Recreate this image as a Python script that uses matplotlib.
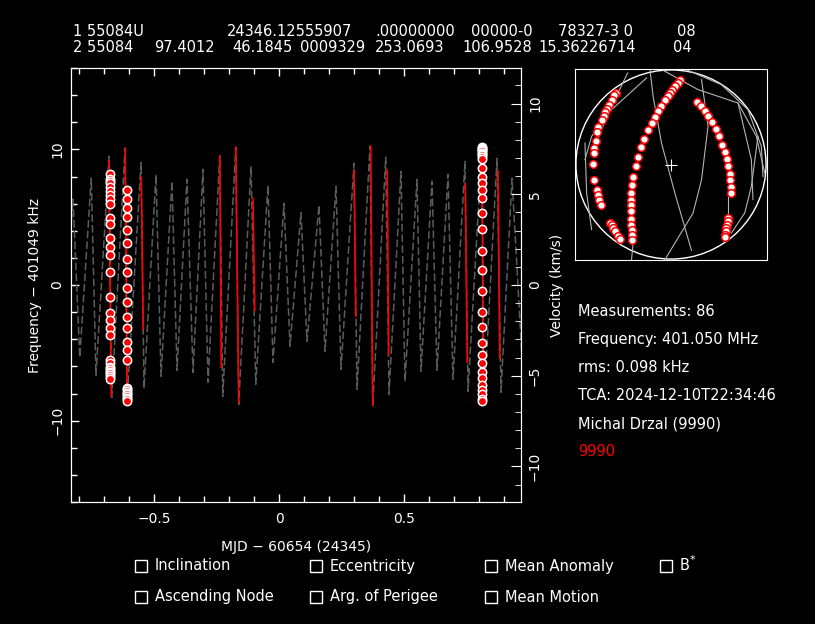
import matplotlib
matplotlib.use('Agg')
import matplotlib.pyplot as plt
from matplotlib.ticker import MultipleLocator, FixedLocator
from matplotlib.patches import Circle, Rectangle

W, H = 815, 624

# model doppler curve, peaks and troughs (MJD - 60654, kHz)
model_t = [-0.868, -0.824, -0.797, -0.751, -0.732, -0.680, -0.669, -0.616, -0.608, -0.552,
           -0.540, -0.492, -0.472, -0.428, -0.408, -0.368, -0.344, -0.304, -0.284, -0.237,
           -0.225, -0.173, -0.161, -0.112, -0.093, -0.044, -0.024, 0.020, 0.044, 0.088,
           0.112, 0.160, 0.184, 0.228, 0.248, 0.300, 0.312, 0.364, 0.375, 0.427,
           0.440, 0.488, 0.504, 0.552, 0.568, 0.612, 0.632, 0.676, 0.696, 0.744,
           0.756, 0.812, 0.820, 0.872, 0.888, 0.932, 0.980]
model_f = [-4.74, 6.32, -5.33, 7.87, -6.66, 9.49, -8.28, 10.08, -8.65, 9.02,
           -7.62, 8.13, -6.73, 7.65, -6.29, 7.79, -6.44, 8.53, -7.18, 9.51,
           -8.21, 10.15, -8.80, 8.75, -7.32, 7.35, -5.70, 6.02, -4.52, 5.33,
           -4.15, 5.88, -4.89, 7.28, -6.22, 8.97, -7.69, 10.24, -8.95, 9.42,
           -8.06, 8.38, -7.10, 7.79, -6.36, 7.65, -6.29, 8.16, -6.95, 9.12,
           -7.84, 10.24, -8.80, 9.34, -7.91, 7.87, -8.06]

# parts of the model where the satellite is above the horizon
pass_t0 = [-0.681, -0.615, -0.551, -0.237, -0.173, -0.104, 0.300, 0.367, 0.433, 0.745, 0.812, 0.876]
pass_t1 = [-0.671, -0.607, -0.543, -0.231, -0.161, -0.097, 0.307, 0.375, 0.439, 0.753, 0.817, 0.883]
pass_f0 = [9.14, 10.08, 7.94, 9.51, 10.15, 6.39, 8.41, 10.23, 8.46, 7.43, 10.38, 8.41]
pass_f1 = [-8.19, -8.80, -3.27, -6.07, -8.65, -1.87, -2.29, -8.87, -5.11, -5.70, -8.87, -5.41]

# measurements, three passes
meas_t = [-0.676, -0.609, 0.813]
meas1_f = [8.16, 7.85, 7.70, 7.55, 7.23, 6.93, 6.62, 6.32, 6.00, 4.97, 4.48, 3.50, 2.80, 2.19,
           0.99, -0.91, -2.09, -2.60, -3.19, -3.71, -5.53, -5.77, -6.02, -6.10, -6.27, -6.40,
           -6.51, -6.65, -6.76, -6.95]
meas2_f = [6.98, 6.37, 5.66, 4.99, 4.09, 3.08, 1.90, 0.99, -0.22, -1.28, -2.38, -3.19,
           -4.17, -4.79, -5.55, -7.57, -7.70, -7.82, -7.95, -8.06, -8.18, -8.30, -8.42, -8.55]
meas3_f = [10.20, 10.13, 10.05, 9.96, 9.86, 9.76, 9.66, 9.56, 9.44, 9.32, 8.66, 7.99, 7.55,
           6.98, 6.45, 5.29, 4.11, 2.49, 1.08, -0.41, -1.99, -3.12, -4.30, -5.18, -5.77,
           -6.39, -6.88, -7.37, -7.74, -8.06, -8.38, -8.55]

# sky plot positions of the measurements
sky_a_x = [-0.577, -0.594, -0.619, -0.643, -0.664, -0.688, -0.702, -0.719, -0.757, -0.768, -0.785,
           -0.799, -0.806, -0.809, -0.799, -0.775, -0.764, -0.750, -0.730, -0.636, -0.619, -0.601,
           -0.584, -0.556, -0.532]
sky_a_y = [0.749, 0.724, 0.672, 0.627, 0.581, 0.546, 0.511, 0.469, 0.389, 0.337, 0.243,
           0.173, 0.120, 0.005, -0.159, -0.271, -0.323, -0.368, -0.428, -0.613, -0.637, -0.665,
           -0.700, -0.745, -0.780]
sky_b_x = [0.092, 0.068, 0.040, 0.012, -0.012, -0.036, -0.064, -0.099, -0.133, -0.168, -0.203,
           -0.237, -0.282, -0.314, -0.345, -0.369, -0.393, -0.404, -0.414, -0.418, -0.421, -0.421,
           -0.418, -0.414, -0.411, -0.411, -0.407]
sky_b_y = [0.881, 0.853, 0.818, 0.783, 0.749, 0.714, 0.672, 0.616, 0.557, 0.497, 0.435,
           0.365, 0.267, 0.180, 0.079, -0.019, -0.131, -0.218, -0.298, -0.368, -0.424, -0.490,
           -0.571, -0.637, -0.682, -0.735, -0.787]
sky_c_x = [0.276, 0.310, 0.352, 0.386, 0.428, 0.470, 0.501, 0.536, 0.567, 0.584, 0.598,
           0.612, 0.619, 0.626, 0.629, 0.598, 0.591, 0.584, 0.577, 0.570, 0.563, 0.560]
sky_c_y = [0.654, 0.609, 0.557, 0.504, 0.442, 0.372, 0.302, 0.208, 0.131, 0.058, -0.019,
           -0.096, -0.166, -0.236, -0.298, -0.560, -0.595, -0.630, -0.665, -0.700, -0.735, -0.763]

# sky tracks of the model
tracks_x = [[-0.220, -0.186, -0.099, 0.040, 0.213],
            [0.318, 0.386, 0.318, 0.230, -0.064],
            [-0.106, 0.282, 0.698, 0.889, 0.976],
            [0.144, 0.525, 0.802, 0.941, 0.958],
            [0.698, 0.837, 0.854],
            [0.906, 0.837, 0.768, 0.629],
            [0.594, 0.594],
            [-0.452, -0.653, -0.792],
            [-0.255, -0.619, -0.827, -0.896],
            [-0.896, -0.879, -0.827],
            [-0.411, -0.393]]
tracks_y = [[1.0, 0.713, 0.225, -0.298, -0.899],
            [0.888, 0.400, -0.159, -0.508, -0.997],
            [1.0, 0.784, 0.644, 0.295, -0.089],
            [1.0, 0.836, 0.574, 0.190, -0.124],
            [0.644, 0.051, -0.368],
            [0.295, -0.229, -0.508, -0.717],
            [-0.298, -0.543],
            [0.958, 0.539, 0.190],
            [0.906, 0.574, 0.295, 0.051],
            [0.225, -0.298, -0.682],
            [-0.997, -0.804]]

tle1 = [("1 55084U", 73), ("24346.12555907", 227), (".00000000", 375), ("00000-0", 471),
        ("78327-3 0", 558), ("08", 677)]
tle2 = [("2 55084", 73), ("97.4012", 154), ("46.1845", 232), ("0009329", 300),
        ("253.0693", 375), ("106.9528", 462), ("15.36226714", 538), ("04", 673)]

info = ["Measurements: 86", "Frequency: 401.050 MHz", "rms: 0.098 kHz",
        "TCA: 2024-12-10T22:34:46", "Michal Drzal (9990)"]
site = "9990"

boxes = [("Inclination", 135, 566), ("Eccentricity", 310, 566), ("Mean Anomaly", 485, 566),
         ("B", 660, 566), ("Ascending Node", 135, 597), ("Arg. of Perigee", 310, 597),
         ("Mean Motion", 485, 597)]

f_ref = 401049.0  # kHz
c = 299792.458    # km/s

plt.rcParams['font.family'] = 'DejaVu Sans'
plt.rcParams['font.size'] = 10

fig = plt.figure(figsize=(W / 100, H / 100), dpi=100, facecolor='black')


def fx(x):
    return x / W


def fy(y):
    return 1 - y / H


ax = fig.add_axes([fx(71), fy(502), 450 / W, 434 / H])
ax.set_facecolor('black')
ax.plot(model_t, model_f, color='#5c5c5c', lw=1.1, dashes=(5, 2))
for i in range(len(pass_t0)):
    ax.plot([pass_t0[i], pass_t1[i]], [pass_f0[i], pass_f1[i]], color='red', lw=1.2)
for t, fs in zip(meas_t, [meas1_f, meas2_f, meas3_f]):
    ax.plot([t] * len(fs), fs, 'o', ms=6, mfc='red', mec='white', mew=1.1)

ax.set_xlim(-0.832, 0.968)
ax.set_ylim(-16, 16)
ax.xaxis.set_major_locator(FixedLocator([-0.5, 0, 0.5]))
ax.xaxis.set_minor_locator(MultipleLocator(0.1))
ax.set_xticklabels(['\u22120.5', '0', '0.5'])
ax.yaxis.set_major_locator(FixedLocator([-10, 0, 10]))
ax.yaxis.set_minor_locator(MultipleLocator(2))
ax.set_yticklabels(['\u221210', '0', '10'], rotation=90, va='center')
ax.tick_params(which='both', direction='in', colors='white', top=True, right=False, labelsize=10)
ax.tick_params(which='major', length=6, width=1)
ax.tick_params(which='minor', length=4, width=1)
ax.tick_params(axis='x', pad=7)
ax.tick_params(axis='y', pad=5)
for s in ax.spines.values():
    s.set_color('white')
ax.set_xlabel('MJD \u2212 60654 (24345)', color='white', fontsize=10, va='center')
ax.xaxis.set_label_coords(0.5, -0.104)
ax.set_ylabel('Frequency \u2212 401049 kHz', color='white', fontsize=10, va='center')
ax.yaxis.set_label_coords(-0.08, 0.5)

ax2 = ax.twinx()
k = c / f_ref
ax2.set_ylim(-16 * k, 16 * k)
ax2.yaxis.set_major_locator(FixedLocator([-10, -5, 0, 5, 10]))
ax2.yaxis.set_minor_locator(MultipleLocator(1))
ax2.set_yticklabels(['\u221210', '\u22125', '0', '5', '10'], rotation=90, va='center')
ax2.tick_params(which='both', direction='in', colors='white', labelsize=10, pad=5)
ax2.tick_params(which='major', length=7)
ax2.tick_params(which='minor', length=4)
for s in ax2.spines.values():
    s.set_color('white')
ax2.set_ylabel('Velocity (km/s)', color='white', fontsize=10, va='center')
ax2.yaxis.set_label_coords(1.08, 0.5)

# sky plot
ax3 = fig.add_axes([fx(575), fy(260), 192 / W, 191 / H])
ax3.set_facecolor('black')
ax3.set_xlim(-1, 1)
ax3.set_ylim(-1, 1)
ax3.set_xticks([])
ax3.set_yticks([])
for s in ax3.spines.values():
    s.set_color('white')
ax3.add_patch(Circle((0, 0), 0.99, fill=False, ec='white', lw=1))
for tx, ty in zip(tracks_x, tracks_y):
    ax3.plot(tx, ty, color='#b4b4b4', lw=0.8)
for sx, sy in [(sky_a_x, sky_a_y), (sky_b_x, sky_b_y), (sky_c_x, sky_c_y)]:
    ax3.plot(sx, sy, 'o', ms=5.5, mfc='white', mec='red', mew=1.1)
ax3.plot([0], [0], '+', color='white', ms=8, mew=0.8)

# TLE lines
for s, x in tle1:
    fig.text(fx(x), fy(32), s, color='white', fontsize=10.5, va='center', ha='left')
for s, x in tle2:
    fig.text(fx(x), fy(47), s, color='white', fontsize=10.5, va='center', ha='left')

# info text
for i, s in enumerate(info):
    fig.text(fx(578), fy(312 + 28 * i), s, color='white', fontsize=10.5, va='center', ha='left')
fig.text(fx(578), fy(452), site, color='red', fontsize=10.5, va='center', ha='left')

# parameter check boxes
for s, x, y in boxes:
    fig.add_artist(Rectangle((fx(x), fy(y + 6)), 12 / W, 12 / H, transform=fig.transFigure,
                             fill=False, ec='white', lw=1))
    fig.text(fx(x + 20), fy(y), s, color='white', fontsize=10.5, va='center', ha='left')
fig.text(fx(690), fy(560), '*', color='white', fontsize=8, va='center', ha='left')

fig.savefig('out.png', dpi=100, facecolor='black')
